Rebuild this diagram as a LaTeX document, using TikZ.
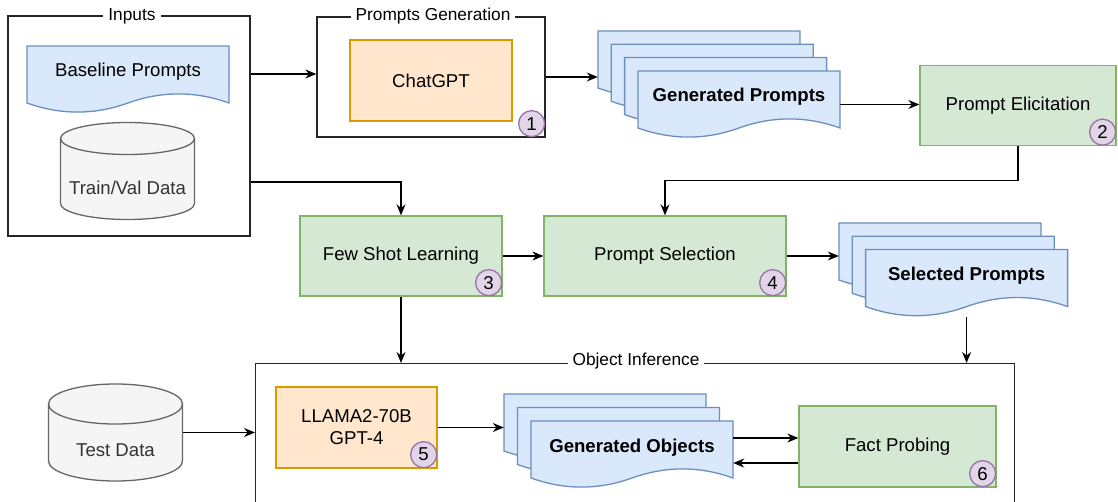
\documentclass[tikz,border=0pt]{standalone}
\usepackage{fontspec}
\setmainfont{Liberation Sans}
\usetikzlibrary{arrows.meta}

\definecolor{docfill}{HTML}{DAE8FC}
\definecolor{docline}{HTML}{6C8EBF}
\definecolor{procfill}{HTML}{D5E8D4}
\definecolor{procline}{HTML}{82B366}
\definecolor{llmfill}{HTML}{FFE6CC}
\definecolor{llmline}{HTML}{D79B00}
\definecolor{stepfill}{HTML}{E1D5E7}
\definecolor{stepline}{HTML}{9673A6}
\definecolor{dbfill}{HTML}{F5F5F5}
\definecolor{dbline}{HTML}{666666}
\definecolor{dbtext}{HTML}{333333}

\begin{document}
\begin{tikzpicture}[x=1pt, y=-1pt,
    font=\fontsize{18.6}{22}\selectfont,
    grp/.style={draw=black!85, line width=1.3pt, inner sep=0pt},
    ttl/.style={fill=white, inner xsep=5pt, inner ysep=1pt,
                font=\fontsize{17.3}{20}\selectfont},
    proc/.style={draw=procline, fill=procfill, line width=1.3pt,
                 inner sep=0pt, align=center},
    llm/.style={draw=llmline, fill=llmfill, line width=1.3pt,
                inner sep=0pt, align=center},
    num/.style={circle, draw=stepline, fill=stepfill, line width=1.3pt,
                minimum size=26pt, inner sep=0pt},
    docbox/.style={minimum width=202pt, text height=31pt, text depth=36pt,
                   inner sep=0pt},
    dbbox/.style={minimum width=134pt, text height=72pt, text depth=25pt,
                  inner sep=0pt, text=dbtext},
    arr/.style={-{Stealth[length=11pt, width=9pt]}, line width=1.3pt},
    pics/wdoc/.style={code={
      \draw[draw=docline, fill=docfill, line width=1.3pt]
        (-101,-33.5) -- (101,-33.5) -- (101,23.5)
        .. controls (67.3,11.4) and (33.7,11.4) .. (0,23.5)
        .. controls (-33.7,35.6) and (-67.3,35.6) .. (-101,23.5) -- cycle;
    }},
    pics/dbcyl/.style={code={
      \draw[draw=dbline, fill=dbfill, line width=1.3pt]
        (-67,-48.5+#1) -- (-67,48.5-#1)
        arc[start angle=180, end angle=0, x radius=67, y radius=#1]
        -- (67,-48.5+#1)
        arc[start angle=0, end angle=-180, x radius=67, y radius=#1] -- cycle;
      \draw[draw=dbline, line width=1.3pt]
        (-67,-48.5+#1) arc[start angle=180, end angle=0, x radius=67, y radius=#1];
    }}
  ]
  \useasboundingbox (0,0) rectangle (1118,502);
  \clip (0,0) rectangle (1118,502);

  % Inputs
  \node[grp, minimum width=242pt, minimum height=220pt] (inputs) at (129,126) {};
  \node[ttl] (tinputs) at (132,16) {Inputs};
  \pic at (128,79.5) {wdoc};
  \node[docbox] (baseline) at (128,79.5) {Baseline Prompts};
  \pic at (127.5,171) {dbcyl=16};
  \node[dbbox] (trainval) at (127.5,171) {Train/Val Data};

  % Prompts generation
  \node[grp, minimum width=228pt, minimum height=120pt] (pgen) at (431,77) {};
  \node[ttl] (tpgen) at (433,16) {Prompts Generation};
  \node[llm, minimum width=162pt, minimum height=81pt] (chatgpt) at (431,80.5) {ChatGPT};
  \node[num] (n1) at ([shift={(-14,-14)}]pgen.south east) {1};

  % Generated prompts
  \foreach \i/\x/\y in {1/699/64.5, 2/712.3/77.8, 3/725.6/91.1}{
    \pic at (\x,\y) {wdoc};
    \node[docbox] (gp\i) at (\x,\y) {};
  }
  \pic at (739,104.5) {wdoc};
  \node[docbox] (gp) at (739,104.5) {\textbf{Generated Prompts}};

  \node[proc, minimum width=196pt, minimum height=80pt] (elicit) at (1018,105.5) {Prompt Elicitation};
  \node[num] (n2) at ([shift={(-14,-14)}]elicit.south east) {2};

  % Learning and selection
  \node[proc, minimum width=202pt, minimum height=80pt] (fsl) at (401,256) {Few Shot Learning};
  \node[num] (n3) at ([shift={(-14,-14)}]fsl.south east) {3};
  \node[proc, minimum width=242pt, minimum height=80pt] (psel) at (665,256) {Prompt Selection};
  \node[num] (n4) at ([shift={(-14,-14)}]psel.south east) {4};

  \foreach \i/\x/\y in {1/940/256.5, 2/953.3/269.8}{
    \pic at (\x,\y) {wdoc};
    \node[docbox] (sp\i) at (\x,\y) {};
  }
  \pic at (966.6,283.1) {wdoc};
  \node[docbox] (sp) at (966.6,283.1) {\textbf{Selected Prompts}};

  % Object inference
  \node[grp, minimum width=759pt, minimum height=170pt, anchor=north west] (oinf) at (255,363) {};
  \node[ttl] (toinf) at (636,361) {Object Inference};
  \pic at (115.5,432.5) {dbcyl=20};
  \node[dbbox] (testdata) at (115.5,432.5) {Test Data};
  \node[llm, minimum width=161pt, minimum height=81pt] (llama) at (356.5,427.5) {LLAMA2-70B\\GPT-4};
  \node[num] (n5) at ([shift={(-14,-14)}]llama.south east) {5};

  \foreach \i/\x/\y in {1/605/427.5, 2/618.5/441}{
    \pic at (\x,\y) {wdoc};
    \node[docbox] (go\i) at (\x,\y) {};
  }
  \pic at (632,454.5) {wdoc};
  \node[docbox] (go) at (632,454.5) {\textbf{Generated Objects}};

  \node[proc, minimum width=197pt, minimum height=81pt] (fact) at (897.5,446.5) {Fact Probing};
  \node[num] (n6) at ([shift={(-14,-14)}]fact.south east) {6};

  % Connectors
  \draw[arr] ([yshift=52pt]inputs.east) -- ([yshift=3pt]pgen.west);
  \draw[arr] (pgen.east) -- (pgen.east -| gp1.west);
  \draw[arr] (gp.east) -- (gp.east -| elicit.west);
  \draw[arr] (elicit.south) -- ++(0,34.5) -| (psel.north);
  \draw[arr] ([yshift=-56pt]inputs.east) -| (fsl.north);
  \draw[arr] (fsl.east) -- (psel.west);
  \draw[arr] (psel.east) -- (psel.east -| sp1.west);
  \draw[arr] (fsl.south) -- (fsl.south |- oinf.north);
  \draw[arr] (sp.south) -- (sp.south |- oinf.north);
  \draw[arr] (testdata.east) -- (testdata.east -| oinf.west);
  \draw[arr] (llama.east) -- (go1.west);
  \draw[arr] ([yshift=16.5pt]go.east) -- ([yshift=8.5pt]fact.west);
  \draw[arr] ([yshift=-16.5pt]fact.west) -- ([yshift=-8.5pt]go.east);
\end{tikzpicture}
\end{document}
